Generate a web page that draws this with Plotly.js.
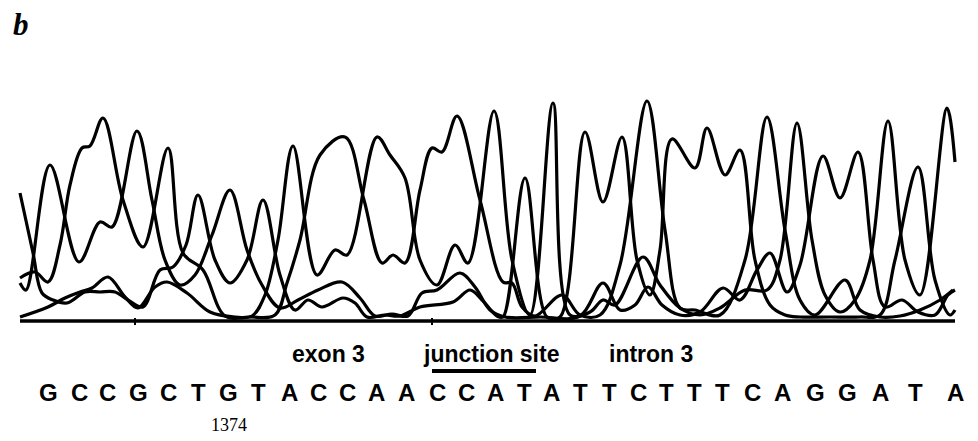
<!DOCTYPE html>
<html>
<head>
<meta charset="utf-8">
<script src="https://cdn.plot.ly/plotly-3.0.1.min.js"></script>
<style>html,body{margin:0;padding:0;background:#fff;}#chart{width:978px;height:441px;}</style>
</head>
<body>
<div id="chart"></div>
<script>
// Chromatogram channels: key points (x position, signal height)
const gX = [20,26,50,79,100,112,137,152,165,180,195,212,230,247,262,280,298,318,342,360,375,392,408,422,437,460,475,490,505,540,580,603,620,635,648,662,680,700,723,740,757,770,787,800,823,840,858,873,885,902,918,935,948,955];
const gY = [37,30,155,58,98,93,189,120,60,35,45,85,130,70,35,12,20,30,38,22,4,6,4,27,30,47,33,10,3,3,4,37,10,15,33,15,5,8,32,20,50,67,28,55,164,122,168,60,13,20,8,5,25,30];

const cX = [20,35,48,60,70,82,90,103,123,143,168,183,203,225,250,275,287,300,320,345,364,382,393,405,420,432,442,457,480,503,512,522,535,562,580,600,620,647,665,680,695,720,745,767,785,800,815,845,860,880,900,920,940,953];
const cY = [42,48,38,75,135,172,174,202,120,73,172,67,50,4,3,5,37,80,165,183,120,57,65,57,130,172,168,204,120,38,37,13,4,25,5,5,55,219,90,12,10,5,60,203,90,20,5,40,10,3,4,10,20,30];

const tX = [20,33,42,53,67,85,100,115,128,143,160,173,186,198,215,230,247,263,280,295,308,322,343,355,367,385,400,420,453,470,482,497,503,525,547,560,585,603,622,637,650,660,672,695,707,725,740,755,770,785,800,830,860,880,895,918,935,950,955];
const tY = [127,67,27,20,17,28,28,28,20,13,50,53,75,125,60,37,60,120,45,10,20,13,22,17,3,5,4,13,18,30,20,4,3,142,3,3,188,118,183,60,25,70,181,152,192,145,170,60,15,5,3,3,3,5,60,153,40,5,10];

const aX = [20,48,65,80,92,108,125,138,155,167,187,210,235,252,265,278,293,317,335,347,377,390,405,420,437,455,468,494,512,530,553,570,590,603,615,643,660,680,700,720,745,767,780,797,812,825,840,855,870,888,905,920,947,955];
const aY = [3,13,22,28,32,43,23,12,33,38,27,8,3,4,25,80,174,45,70,65,183,165,142,60,35,75,57,209,60,5,217,5,8,20,15,63,35,12,5,12,30,30,60,197,80,25,8,20,60,199,60,25,212,158];

// Base calls and their positions along the trace
const bases = ["G","C","C","G","C","T","G","T","A","C","C","A","A","C","C","A","T","A","T","T","C","T","T","T","C","A","G","G","A","T","A"];
const baseX = [48,79,107,138,168,198,228,258,289,318,347,376,406,437,466,495,524,551,580,609,638,666,694,722,752,782,815,847,880,915,955];

const regionLabels = ["exon 3","junction site","intron 3"];
const regionX = [328,491,651];
const positionLabel = "1374";
const positionX = 229;
const tickX = [135,432];

const line = {color:"#000", width:3.2, shape:"spline", smoothing:1};
const traces = [[gX,gY],[cX,cY],[tX,tY],[aX,aY]].map(([x,y]) => ({
  x:x, y:y, type:"scatter", mode:"lines", line:line, hoverinfo:"skip"
}));

const annotations = [];
annotations.push({x:21, y:296, xref:"x", yref:"y", text:"<b><i>b</i></b>", showarrow:false,
  font:{family:"Liberation Serif", size:31, color:"#000"}});
regionLabels.forEach((t,i) => annotations.push({x:regionX[i], y:-34, xref:"x", yref:"y", text:"<b>"+t+"</b>",
  showarrow:false, font:{family:"Liberation Sans", size:23, color:"#000"}}));
bases.forEach((b,i) => annotations.push({x:baseX[i], y:-72, xref:"x", yref:"y", text:"<b>"+b+"</b>",
  showarrow:false, font:{family:"Liberation Sans", size:24, color:"#000"}}));
annotations.push({x:positionX, y:-105, xref:"x", yref:"y", text:positionLabel, showarrow:false,
  font:{family:"Liberation Serif", size:18, color:"#000"}});

const shapes = [
  {type:"line", xref:"x", yref:"y", x0:20, x1:955, y0:-1, y1:-1, line:{color:"#000", width:3.5}},
  {type:"line", xref:"x", yref:"y", x0:432, x1:536, y0:-51, y1:-51, line:{color:"#000", width:4}}
];
tickX.forEach(t => shapes.push({type:"line", xref:"x", yref:"y", x0:t, x1:t, y0:-5, y1:2, line:{color:"#000", width:2}}));

const layout = {
  width:978, height:441, margin:{l:0,r:0,t:0,b:0},
  paper_bgcolor:"#fff", plot_bgcolor:"#fff", showlegend:false,
  xaxis:{range:[0,978], visible:false, fixedrange:true},
  yaxis:{range:[-121,320], visible:false, fixedrange:true},
  annotations:annotations, shapes:shapes
};
Plotly.newPlot("chart", traces, layout, {staticPlot:true, displayModeBar:false});
</script>
</body>
</html>
